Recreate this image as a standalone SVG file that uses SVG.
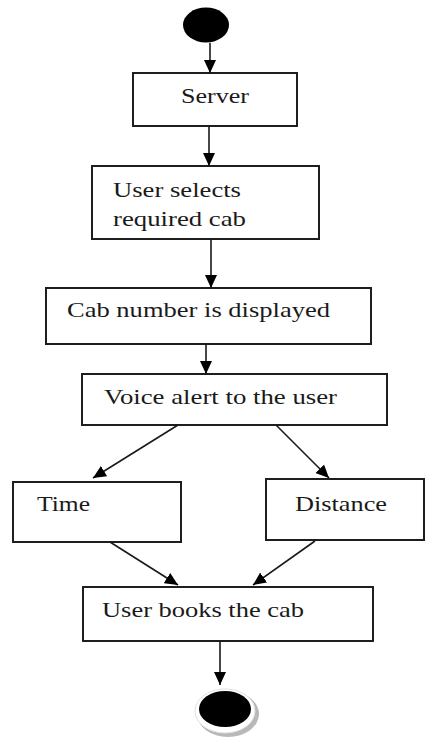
<svg xmlns="http://www.w3.org/2000/svg" width="425" height="740" viewBox="0 0 425 740">
<style>
.box{fill:#fff;stroke:#1e1e1e;stroke-width:2}
.lbl{font-family:"Liberation Serif","Times New Roman",serif;font-size:21px;fill:#1a1a1a}
.edge{stroke:#1a1a1a;stroke-width:1.6;fill:none;marker-end:url(#ah)}
</style>
<defs>
<marker id="ah" markerUnits="userSpaceOnUse" markerWidth="14" markerHeight="12" refX="13" refY="6" orient="auto">
<path d="M0,0 L13,6 L0,12 z" fill="#000"/>
</marker>
</defs>
<g id="start"><ellipse cx="206" cy="25" rx="23" ry="17.5" fill="#000"/></g>
<g id="server"><rect class="box" x="133" y="73" width="164" height="53"/><text class="lbl" x="181" y="103" textLength="68" lengthAdjust="spacingAndGlyphs">Server</text></g>
<g id="select"><rect class="box" x="92" y="166" width="227" height="73"/><text class="lbl" x="113" y="197" textLength="128" lengthAdjust="spacingAndGlyphs">User selects</text><text class="lbl" x="113" y="226" textLength="133" lengthAdjust="spacingAndGlyphs">required cab</text></g>
<g id="display"><rect class="box" x="46" y="288" width="325" height="56"/><text class="lbl" x="67" y="317" textLength="263" lengthAdjust="spacingAndGlyphs">Cab number is displayed</text></g>
<g id="voice"><rect class="box" x="82" y="374" width="305" height="51"/><text class="lbl" x="104" y="404" textLength="233" lengthAdjust="spacingAndGlyphs">Voice alert to the user</text></g>
<g id="time"><rect class="box" x="13" y="482" width="168" height="60"/><text class="lbl" x="37" y="511" textLength="53" lengthAdjust="spacingAndGlyphs">Time</text></g>
<g id="distance"><rect class="box" x="266" y="479" width="158" height="61"/><text class="lbl" x="295" y="511" textLength="92" lengthAdjust="spacingAndGlyphs">Distance</text></g>
<g id="books"><rect class="box" x="83" y="587" width="290" height="54"/><text class="lbl" x="102" y="617" textLength="202" lengthAdjust="spacingAndGlyphs">User books the cab</text></g>
<g id="end">
<ellipse cx="228" cy="714" rx="31" ry="23" fill="#b8b8b8"/>
<ellipse cx="225" cy="711" rx="30" ry="22" fill="#fff" stroke="#e0e0e0" stroke-width="1"/>
<ellipse cx="225" cy="709" rx="26" ry="18" fill="#000"/>
</g>
<g id="connectors">
<line class="edge" x1="210" y1="43" x2="210" y2="73"/>
<line class="edge" x1="209" y1="126" x2="209" y2="166"/>
<line class="edge" x1="211" y1="239" x2="211" y2="288"/>
<line class="edge" x1="206" y1="344" x2="206" y2="374"/>
<line class="edge" x1="178" y1="425" x2="93" y2="478"/>
<line class="edge" x1="276" y1="425" x2="329" y2="478"/>
<line class="edge" x1="110" y1="542" x2="178" y2="585"/>
<line class="edge" x1="315" y1="541" x2="253" y2="585"/>
<line class="edge" x1="220" y1="641" x2="220" y2="685"/>
</g>
</svg>
